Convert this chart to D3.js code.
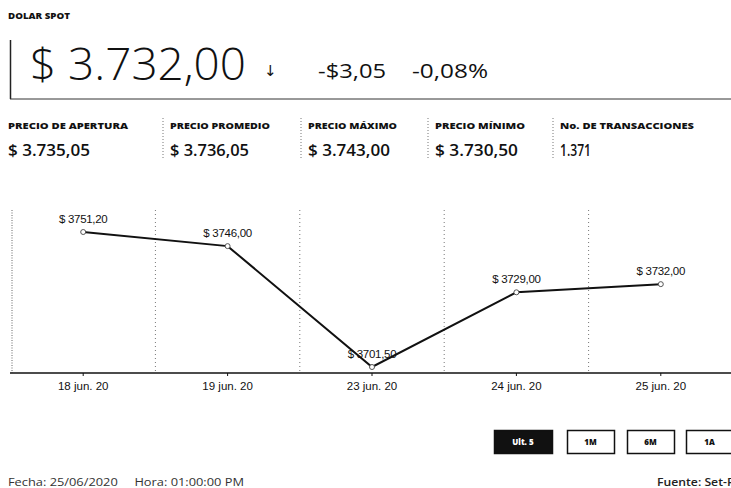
<!DOCTYPE html>
<html>
<head>
<meta charset="utf-8">
<script src="https://cdn.jsdelivr.net/npm/d3@7"></script>
<style>
  body { margin: 0; background: #fff; }
  svg { display: block; }
  .hdr { font-family: "Open Sans", "DejaVu Sans", sans-serif; fill: #111; }
  .lbl { font-family: "Liberation Sans", Arial, sans-serif; fill: #111; }
  .axis path, .axis line { stroke: #111; }
</style>
</head>
<body>
<div id="chart"></div>
<script>
// header figures
var title = 'DOLAR SPOT';
var lastPrice = '$ 3.732,00';
var change = '-$3,05';
var changePct = '-0,08%';

var statLabels = ['PRECIO DE APERTURA', 'PRECIO PROMEDIO', 'PRECIO MÁXIMO', 'PRECIO MÍNIMO', 'No. DE TRANSACCIONES'];
var statValues = ['$ 3.735,05', '$ 3.736,05', '$ 3.743,00', '$ 3.730,50', '1.371'];

// series
var dates = ['18 jun. 20', '19 jun. 20', '23 jun. 20', '24 jun. 20', '25 jun. 20'];
var closes = [3751.20, 3746.00, 3701.50, 3729.00, 3732.00];

var ranges = ['Ult. 5', '1M', '6M', '1A'];
var footLeft = 'Fecha: 25/06/2020     Hora: 01:00:00 PM';
var footRight = 'Fuente: Set-FX';

var W = 731, H = 488;

var svg = d3.select('#chart').append('svg')
    .attr('width', W)
    .attr('height', H);

// ---- header
svg.append('text')
    .attr('class', 'hdr')
    .attr('x', 8).attr('y', 19)
    .attr('font-size', 9.5)
    .attr('font-weight', 800)
    .attr('textLength', 62)
    .attr('lengthAdjust', 'spacingAndGlyphs')
    .text(title);

svg.append('line')
    .attr('x1', 10.5).attr('x2', 10.5)
    .attr('y1', 40).attr('y2', 99)
    .attr('stroke', '#222').attr('stroke-width', 1.5);
svg.append('line')
    .attr('x1', 10).attr('x2', W)
    .attr('y1', 99).attr('y2', 99)
    .attr('stroke', '#333').attr('stroke-width', 1);

svg.append('text')
    .attr('class', 'hdr')
    .attr('x', 30).attr('y', 80)
    .attr('font-size', 45)
    .attr('font-weight', 300)
    .attr('textLength', 216)
    .attr('lengthAdjust', 'spacingAndGlyphs')
    .text(lastPrice);

svg.append('text')
    .attr('class', 'hdr')
    .attr('x', 264).attr('y', 76)
    .attr('font-size', 15)
    .attr('font-weight', 400)
    .text('↓');

svg.append('text')
    .attr('class', 'hdr')
    .attr('x', 318).attr('y', 78)
    .attr('font-size', 20)
    .attr('font-weight', 500)
    .attr('textLength', 68)
    .attr('lengthAdjust', 'spacingAndGlyphs')
    .text(change);

svg.append('text')
    .attr('class', 'hdr')
    .attr('x', 412).attr('y', 78)
    .attr('font-size', 20)
    .attr('font-weight', 500)
    .attr('textLength', 76)
    .attr('lengthAdjust', 'spacingAndGlyphs')
    .text(changePct);

// ---- stats row
var statX = [8, 170, 308, 435, 560];
var labelW = [120, 100, 89, 90, 134];
var valueW = [82, 79, 82, 83, 31];

var stats = svg.selectAll('.stat')
    .data(statLabels)
    .enter().append('g')
    .attr('class', 'stat')
    .attr('transform', (d, i) => 'translate(' + statX[i] + ',0)');

stats.append('text')
    .attr('class', 'hdr')
    .attr('y', 129)
    .attr('font-size', 8.5)
    .attr('font-weight', 800)
    .attr('textLength', (d, i) => labelW[i])
    .attr('lengthAdjust', 'spacingAndGlyphs')
    .text(d => d);

stats.append('text')
    .attr('class', 'hdr')
    .attr('y', 156)
    .attr('font-size', 16.5)
    .attr('font-weight', 600)
    .attr('textLength', (d, i) => valueW[i])
    .attr('lengthAdjust', 'spacingAndGlyphs')
    .text((d, i) => statValues[i]);

stats.filter((d, i) => i > 0).append('line')
    .attr('x1', -7).attr('x2', -7)
    .attr('y1', 118).attr('y2', 160)
    .attr('stroke', '#777')
    .attr('stroke-dasharray', '1,2');

// ---- chart
var plotTop = 210, axisY = 373;

var x = d3.scaleBand()
    .domain(dates)
    .range([11, 733]);

var y = d3.scaleLinear()
    .domain(d3.extent(closes))
    .range([367, 232]);

var es = d3.formatLocale({ decimal: ',', thousands: '.', grouping: [3], currency: ['$ ', ''] });
var fmt = es.format('.2f');

var chart = svg.append('g');

// left edge + separators
chart.append('line')
    .attr('x1', 12).attr('x2', 12)
    .attr('y1', plotTop).attr('y2', axisY)
    .attr('stroke', '#666')
    .attr('stroke-dasharray', '1,1.5');

chart.selectAll('.grid')
    .data(dates.slice(1))
    .enter().append('line')
    .attr('class', 'grid')
    .attr('x1', d => x(d)).attr('x2', d => x(d))
    .attr('y1', plotTop).attr('y2', axisY)
    .attr('stroke', '#777')
    .attr('stroke-dasharray', '1,3');

var xAxis = d3.axisBottom(x)
    .tickSize(3)
    .tickPadding(6);

chart.append('g')
    .attr('class', 'axis')
    .attr('transform', 'translate(0,' + axisY + ')')
    .call(xAxis)
    .call(g => g.select('.domain').attr('d', 'M10,0H' + W).attr('stroke-width', 1.5))
    .call(g => g.selectAll('text')
        .attr('class', 'lbl')
        .attr('font-size', 11.5)
        .attr('fill', '#111'));

var line = d3.line()
    .x((d, i) => x(dates[i]) + x.bandwidth() / 2)
    .y(d => y(d));

chart.append('path')
    .datum(closes)
    .attr('d', line)
    .attr('fill', 'none')
    .attr('stroke', '#111')
    .attr('stroke-width', 2);

chart.selectAll('.dot')
    .data(closes)
    .enter().append('circle')
    .attr('class', 'dot')
    .attr('cx', (d, i) => x(dates[i]) + x.bandwidth() / 2)
    .attr('cy', d => y(d))
    .attr('r', 2.5)
    .attr('fill', '#fff')
    .attr('stroke', '#555');

chart.selectAll('.val')
    .data(closes)
    .enter().append('text')
    .attr('class', 'lbl val')
    .attr('x', (d, i) => x(dates[i]) + x.bandwidth() / 2)
    .attr('y', d => y(d) - 9)
    .attr('text-anchor', 'middle')
    .attr('font-size', 11.5)
    .attr('letter-spacing', -0.3)
    .text(d => '$ ' + fmt(d));

// ---- range buttons
var btnX = [494, 567, 627, 686];
var btnW = [58, 47, 47, 47];

var btn = svg.selectAll('.btn')
    .data(ranges)
    .enter().append('g')
    .attr('class', 'btn')
    .attr('transform', (d, i) => 'translate(' + btnX[i] + ',430)');

btn.append('rect')
    .attr('x', 0.5).attr('y', 0.5)
    .attr('width', (d, i) => btnW[i])
    .attr('height', 23)
    .attr('fill', (d, i) => i === 0 ? '#111' : '#fff')
    .attr('stroke', '#111')
    .attr('stroke-width', 1.5);

btn.append('text')
    .attr('class', 'hdr')
    .attr('x', (d, i) => btnW[i] / 2)
    .attr('y', 15)
    .attr('text-anchor', 'middle')
    .attr('font-size', 8)
    .attr('font-weight', 800)
    .style('fill', (d, i) => i === 0 ? '#fff' : '#111')
    .text(d => d);

// ---- footer
svg.append('text')
    .attr('class', 'hdr')
    .attr('x', 8).attr('y', 486)
    .attr('font-size', 10.5)
    .attr('textLength', 236)
    .attr('lengthAdjust', 'spacingAndGlyphs')
    .style('fill', '#333')
    .style('white-space', 'pre')
    .text(footLeft);

svg.append('text')
    .attr('class', 'hdr')
    .attr('x', 657).attr('y', 486)
    .attr('font-size', 10.5)
    .attr('font-weight', 600)
    .attr('textLength', 84)
    .attr('lengthAdjust', 'spacingAndGlyphs')
    .style('fill', '#222')
    .text(footRight);
</script>
</body>
</html>
